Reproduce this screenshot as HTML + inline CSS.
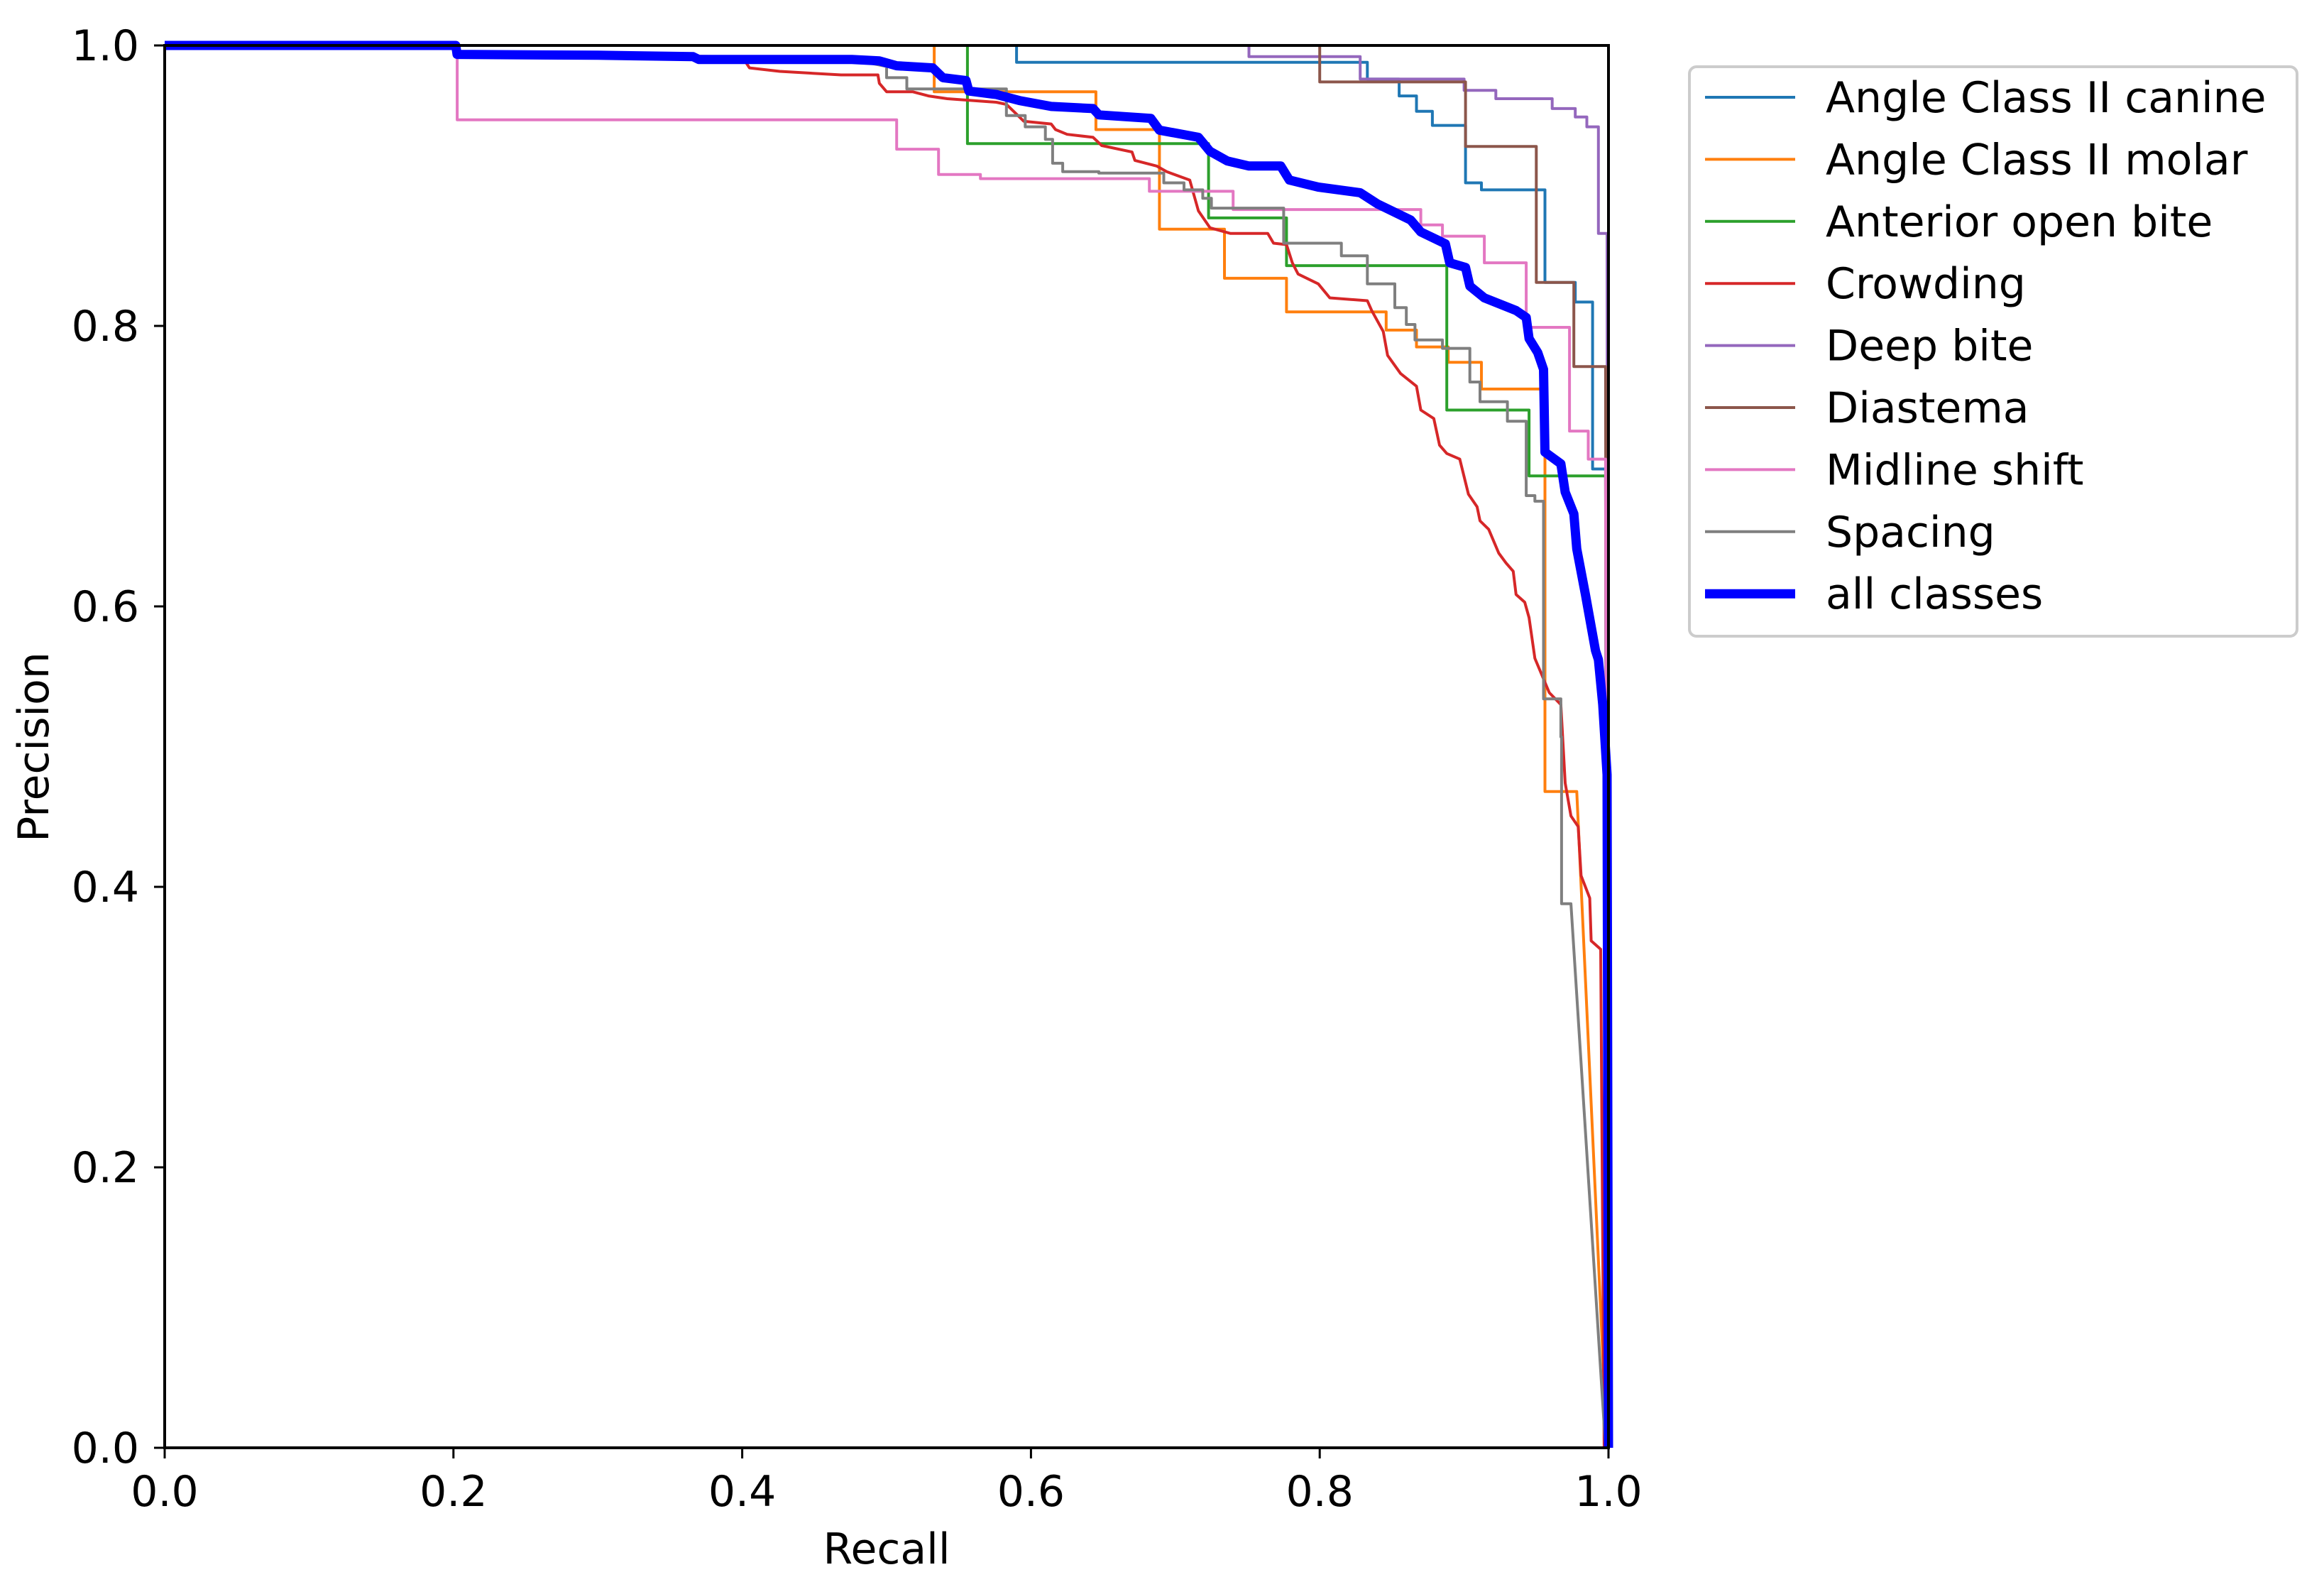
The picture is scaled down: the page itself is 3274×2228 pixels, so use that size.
<!DOCTYPE html>
<html><head><meta charset="utf-8"><style>
html,body{margin:0;padding:0;background:#fff;}
svg{display:block;font-family:"DejaVu Sans","Liberation Sans",sans-serif;}
</style></head><body>
<svg id="chart" width="3274" height="2228" viewBox="0 0 3274 2228" xmlns="http://www.w3.org/2000/svg">
<rect width="3274" height="2228" fill="#fff"/>
<g id="series"></g>
<g id="axes"></g>
<g id="legend"></g>
</svg>
<script>
const xTicks=[0,0.2,0.4,0.6,0.8,1.0];
const yTicks=[0,0.2,0.4,0.6,0.8,1.0];
const tickLabels=["0.0","0.2","0.4","0.6","0.8","1.0"];
const classNames=["Angle Class II canine","Angle Class II molar","Anterior open bite","Crowding","Deep bite","Diastema","Midline shift","Spacing","all classes"];
const classColors=["#1f77b4","#ff7f0e","#2ca02c","#d62728","#9467bd","#8c564b","#e377c2","#7f7f7f","#0000ff"];

const canineR=[0,0.590,0.590,0.833,0.833,0.855,0.855,0.867,0.867,0.878,0.878,0.901,0.901,0.912,0.912,0.956,0.956,0.977,0.977,0.989,0.989,0.998,0.999];
const canineP=[1,1,0.988,0.988,0.976,0.976,0.964,0.964,0.953,0.953,0.943,0.943,0.902,0.902,0.897,0.897,0.831,0.831,0.817,0.817,0.698,0.698,0];
const molarR=[0,0.533,0.533,0.645,0.645,0.689,0.689,0.734,0.734,0.777,0.777,0.846,0.846,0.867,0.867,0.889,0.889,0.912,0.912,0.956,0.956,0.978,0.999];
const molarP=[1,1,0.967,0.967,0.940,0.940,0.869,0.869,0.834,0.834,0.810,0.810,0.797,0.797,0.785,0.785,0.774,0.774,0.755,0.755,0.468,0.468,0];
const openR=[0,0.556,0.556,0.723,0.723,0.777,0.777,0.888,0.888,0.945,0.945,0.998,0.999];
const openP=[1,1,0.930,0.930,0.877,0.877,0.843,0.843,0.740,0.740,0.693,0.693,0];
const crowdR=[0,0.2016,0.2025,0.40,0.405,0.426,0.4685,0.494,0.495,0.500,0.518,0.529,0.542,0.576,0.583,0.588,0.595,0.614,0.617,0.625,0.643,0.649,0.670,0.672,0.687,0.694,0.710,0.716,0.724,0.738,0.764,0.768,0.777,0.781,0.785,0.799,0.807,0.833,0.836,0.844,0.847,0.856,0.867,0.870,0.879,0.883,0.888,0.897,0.903,0.909,0.911,0.917,0.924,0.929,0.934,0.936,0.942,0.945,0.949,0.959,0.967,0.970,0.974,0.979,0.981,0.987,0.988,0.9946,0.997];
const crowdP=[1,1,0.9936,0.992,0.984,0.9815,0.979,0.979,0.973,0.967,0.967,0.964,0.962,0.9595,0.958,0.953,0.946,0.944,0.940,0.9366,0.9345,0.9286,0.924,0.918,0.914,0.910,0.904,0.882,0.870,0.866,0.866,0.859,0.858,0.845,0.837,0.830,0.820,0.818,0.811,0.796,0.779,0.766,0.757,0.740,0.734,0.715,0.709,0.705,0.680,0.671,0.661,0.655,0.638,0.631,0.625,0.6085,0.603,0.592,0.563,0.5385,0.53,0.474,0.4506,0.443,0.408,0.392,0.3615,0.3555,0];
const deepR=[0,0.751,0.751,0.828,0.828,0.900,0.900,0.922,0.922,0.961,0.961,0.977,0.977,0.985,0.985,0.993,0.993,0.999,1.0];
const deepP=[1,1,0.992,0.992,0.976,0.976,0.968,0.968,0.962,0.962,0.955,0.955,0.949,0.949,0.942,0.942,0.866,0.866,0];
const diasR=[0,0.800,0.800,0.901,0.901,0.950,0.950,0.976,0.976,0.998,0.999];
const diasP=[1,1,0.974,0.974,0.928,0.928,0.831,0.831,0.771,0.771,0];
const midR=[0,0.2026,0.2026,0.507,0.507,0.536,0.536,0.565,0.565,0.682,0.682,0.740,0.740,0.870,0.870,0.885,0.885,0.914,0.914,0.943,0.943,0.973,0.973,0.986,0.986,0.998,0.999];
const midP=[1,1,0.947,0.947,0.926,0.926,0.908,0.908,0.905,0.905,0.896,0.896,0.883,0.883,0.872,0.872,0.864,0.864,0.845,0.845,0.799,0.799,0.725,0.725,0.705,0.705,0];
const spaceR=[0,0.2016,0.2025,0.476,0.500,0.500,0.514,0.514,0.583,0.583,0.596,0.596,0.610,0.610,0.615,0.615,0.622,0.622,0.647,0.647,0.692,0.692,0.706,0.706,0.719,0.719,0.725,0.725,0.775,0.775,0.815,0.815,0.833,0.833,0.852,0.852,0.860,0.860,0.866,0.866,0.885,0.885,0.904,0.904,0.911,0.911,0.930,0.930,0.943,0.943,0.949,0.949,0.955,0.955,0.967,0.967,0.9675,0.9675,0.974,0.998];
const spaceP=[1,1,0.9936,0.990,0.985,0.977,0.977,0.969,0.969,0.950,0.950,0.942,0.942,0.933,0.933,0.916,0.916,0.910,0.910,0.909,0.909,0.902,0.902,0.897,0.897,0.891,0.891,0.884,0.884,0.859,0.859,0.850,0.850,0.830,0.830,0.813,0.813,0.801,0.801,0.790,0.790,0.784,0.784,0.760,0.760,0.746,0.746,0.732,0.732,0.679,0.679,0.675,0.675,0.534,0.534,0.507,0.507,0.388,0.388,0];
const allR=[0,0.2016,0.2025,0.30,0.366,0.370,0.476,0.495,0.507,0.532,0.539,0.555,0.557,0.576,0.592,0.614,0.643,0.647,0.683,0.689,0.716,0.724,0.736,0.751,0.773,0.779,0.799,0.828,0.840,0.863,0.870,0.887,0.890,0.901,0.904,0.914,0.936,0.943,0.945,0.951,0.955,0.956,0.967,0.970,0.976,0.978,0.984,0.991,0.993,0.996,0.999,1.0];
const allP=[1,1,0.9936,0.993,0.992,0.990,0.990,0.989,0.9855,0.984,0.977,0.975,0.9675,0.965,0.9607,0.9565,0.955,0.9505,0.948,0.9396,0.9345,0.9245,0.9176,0.914,0.914,0.904,0.899,0.895,0.887,0.8755,0.867,0.8586,0.845,0.8417,0.8284,0.820,0.811,0.806,0.791,0.781,0.769,0.710,0.7017,0.6815,0.666,0.641,0.6085,0.5685,0.562,0.53,0.48,0];

const seriesR=[canineR,molarR,openR,crowdR,deepR,diasR,midR,spaceR,allR];
const seriesP=[canineP,molarP,openP,crowdP,deepP,diasP,midP,spaceP,allP];
const seriesNames=["series-canine","series-molar","series-open-bite","series-crowding","series-deep-bite","series-diastema","series-midline-shift","series-spacing","series-all-classes"];

const X0=232,X1=2266,Y0=2039,Y1=64;
function xs(v){return X0+v*(X1-X0);}
function ys(v){return Y0-v*(Y0-Y1);}
const NS="http://www.w3.org/2000/svg";
function mk(tag,attrs,parent){const e=document.createElementNS(NS,tag);for(const k in attrs)e.setAttribute(k,attrs[k]);parent.appendChild(e);return e;}

const sg=document.getElementById('series');
for(let i=0;i<seriesR.length;i++){
  const pts=seriesR[i].map((r,j)=>xs(r).toFixed(1)+","+ys(seriesP[i][j]).toFixed(1)).join(" ");
  const pl=mk('polyline',{points:pts,fill:'none',stroke:classColors[i],'stroke-width':i===8?13:4,'stroke-linejoin':'round'},sg);
  
  
}

const ag=document.getElementById('axes');
const frame=mk('rect',{x:X0,y:Y1,width:X1-X0,height:Y0-Y1,fill:'none',stroke:'#000','stroke-width':4},ag);


for(let i=0;i<xTicks.length;i++){
  const x=xs(xTicks[i]);
  const t=mk('line',{x1:x,y1:Y0,x2:x,y2:Y0+15,stroke:'#000','stroke-width':3},ag);
  
  
  const l=mk('text',{x:x,y:2121,'font-size':60,'text-anchor':'middle',fill:'#000'},ag);
  l.textContent=tickLabels[i];
  
  
}
for(let i=0;i<yTicks.length;i++){
  const y=ys(yTicks[i]);
  const t=mk('line',{x1:X0-15,y1:y,x2:X0,y2:y,stroke:'#000','stroke-width':3},ag);
  
  
  const l=mk('text',{x:196,y:y+21,'font-size':60,'text-anchor':'end',fill:'#000'},ag);
  l.textContent=tickLabels[i];
  
  
}
const xl=mk('text',{x:1249,y:2202,'font-size':60,'text-anchor':'middle',fill:'#000'},ag);
xl.textContent="Recall";


const yl=mk('text',{x:0,y:0,'font-size':60,'text-anchor':'middle',fill:'#000',transform:'translate(68,1052) rotate(-90)'},ag);
yl.textContent="Precision";



const lg=document.getElementById('legend');
const box=mk('rect',{x:2380,y:94,width:856,height:802,rx:10,fill:'#fff','fill-opacity':0.8,stroke:'#cccccc','stroke-width':4},lg);


for(let i=0;i<classNames.length;i++){
  const cy=137+i*87.4;
  const h=mk('line',{x1:2402,y1:cy,x2:2529,y2:cy,stroke:classColors[i],'stroke-width':i===8?13:4},lg);
  
  
  const t=mk('text',{x:2572,y:cy+21,'font-size':60,fill:'#000'},lg);
  t.textContent=classNames[i];
  
  
}
</script>
</body></html>
